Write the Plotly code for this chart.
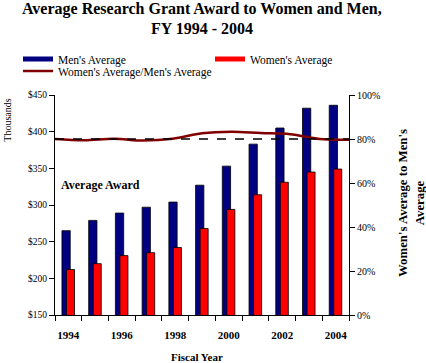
import plotly.graph_objects as go

years = [1994, 1995, 1996, 1997, 1998, 1999, 2000, 2001, 2002, 2003, 2004]
men_avg = [265, 279, 289, 297, 304, 327, 353, 383, 405, 432, 436]
women_avg = [212, 220, 231, 235, 242, 268, 294, 314, 331, 345, 349]
ratio_pct = [80.0, 79.4, 80.1, 79.3, 80.1, 82.6, 83.3, 82.7, 82.2, 80.0, 79.7]
label_years = [1994, 1996, 1998, 2000, 2002, 2004]
left_ticks = [150, 200, 250, 300, 350, 400, 450]
right_ticks = [0, 20, 40, 60, 80, 100]
reference_pct = 80

W, H = 426, 363
L, R, T, B = 55, 77, 95, 48
PW, PH = W - L - R, H - T - B
FONT = "Liberation Serif"
NAVY, RED, MAROON = "#000080", "#FF0000", "#800000"


def px(x):
    return (x - L) / PW


def py(y):
    return (H - B - y) / PH


fig = go.Figure()

fig.add_trace(go.Bar(
    x=years, y=men_avg, width=0.31, offset=-0.24,
    marker=dict(color=NAVY, line=dict(color="black", width=0.8)),
    showlegend=False, name="Men's Average",
))
fig.add_trace(go.Bar(
    x=years, y=women_avg, width=0.30, offset=-0.07,
    marker=dict(color=RED, line=dict(color="black", width=0.8)),
    showlegend=False, name="Women's Average",
))
fig.add_trace(go.Scatter(
    x=list(range(len(ratio_pct))), y=ratio_pct, xaxis="x2", yaxis="y2",
    mode="lines", line=dict(color=MAROON, width=2.5, shape="spline"),
    name="Women's Average/Men's Average", legend="legend3",
))
# legend-only entries for the bar series (wide flat swatches)
fig.add_trace(go.Scatter(
    x=[years[0]], y=[men_avg[0]], mode="lines", line=dict(color=NAVY, width=5),
    name="Men's Average", legend="legend",
))
fig.add_trace(go.Scatter(
    x=[years[0]], y=[women_avg[0]], mode="lines", line=dict(color=RED, width=5),
    name="Women's Average", legend="legend2",
))

fig.add_shape(type="line", xref="paper", x0=0, x1=1, yref="y2",
              y0=reference_pct, y1=reference_pct,
              line=dict(color="black", width=1.3, dash="dash"), layer="above")

legend_common = dict(orientation="v", xref="container", yref="container",
                     xanchor="left", yanchor="middle", bgcolor="rgba(0,0,0,0)",
                     font=dict(family=FONT, size=11.5, color="black"),
                     itemwidth=30, tracegroupgap=0)

fig.update_layout(
    width=W, height=H,
    margin=dict(l=L, r=R, t=T, b=B, pad=0, autoexpand=False),
    paper_bgcolor="white", plot_bgcolor="white",
    barmode="overlay",
    font=dict(family=FONT, color="black"),
    legend=dict(**legend_common, x=18 / W, y=1 - 59 / H),
    legend2=dict(**legend_common, x=210 / W, y=1 - 59 / H),
    legend3=dict(**legend_common, x=18 / W, y=1 - 71 / H),
    xaxis=dict(range=[1993.5, 2004.5], tickvals=label_years,
               ticktext=[str(v) for v in label_years],
               ticks="outside", ticklen=5, tickcolor="rgba(0,0,0,0)",
               ticklabelstandoff=5,
               minor=dict(ticks="outside", tick0=1993.5, dtick=1, ticklen=5,
                          tickcolor="black", showgrid=False),
               tickfont=dict(family=FONT, size=11, weight="bold", color="black"),
               showline=True, linecolor="black", linewidth=1,
               showgrid=False, zeroline=False),
    xaxis2=dict(range=[0, 10], overlaying="x", anchor="y2", visible=False),
    yaxis=dict(range=[150, 450], tickvals=left_ticks,
               ticktext=["$" + str(v) for v in left_ticks],
               ticks="outside", ticklen=5, tickcolor="black",
               tickfont=dict(family=FONT, size=9.5, color="black"),
               showline=True, linecolor="black", linewidth=1,
               showgrid=False, zeroline=False),
    yaxis2=dict(range=[0, 100], tickvals=right_ticks,
                ticktext=[str(v) + "%" for v in right_ticks],
                overlaying="y", side="right", anchor="x",
                ticks="outside", ticklen=5, tickcolor="black",
                tickfont=dict(family=FONT, size=10, color="black"),
                showline=True, linecolor="black", linewidth=1,
                showgrid=False, zeroline=False),
)

ann = dict(xref="paper", yref="paper", showarrow=False,
           xanchor="center", yanchor="middle")
title_font = dict(family=FONT, size=16, weight="bold", color="black")
fig.add_annotation(**ann, x=px(202), y=py(9),
                   text="Average Research Grant Award to Women and Men,",
                   font=title_font)
fig.add_annotation(**ann, x=px(202), y=py(29), text="FY 1994 - 2004",
                   font=title_font)
fig.add_annotation(**ann, x=px(6.7), y=py(120), text="Thousands", textangle=-90,
                   font=dict(family=FONT, size=10, color="black"))
fig.add_annotation(**ann, x=px(100), y=py(185), text="Average Award",
                   font=dict(family=FONT, size=12, weight="bold", color="black"))
fig.add_annotation(**ann, x=px(197), y=py(357), text="Fiscal Year",
                   font=dict(family=FONT, size=11, weight="bold", color="black"))
fig.add_annotation(**ann, x=px(411), y=py(203), textangle=-90,
                   text="Women's Average to Men's<br>Average",
                   font=dict(family=FONT, size=12.8, weight="bold", color="black"))

fig.write_html("out.html",
               config={"displayModeBar": False},
               post_script="document.body.style.margin='0';"
                           "document.body.style.overflow='hidden';")
